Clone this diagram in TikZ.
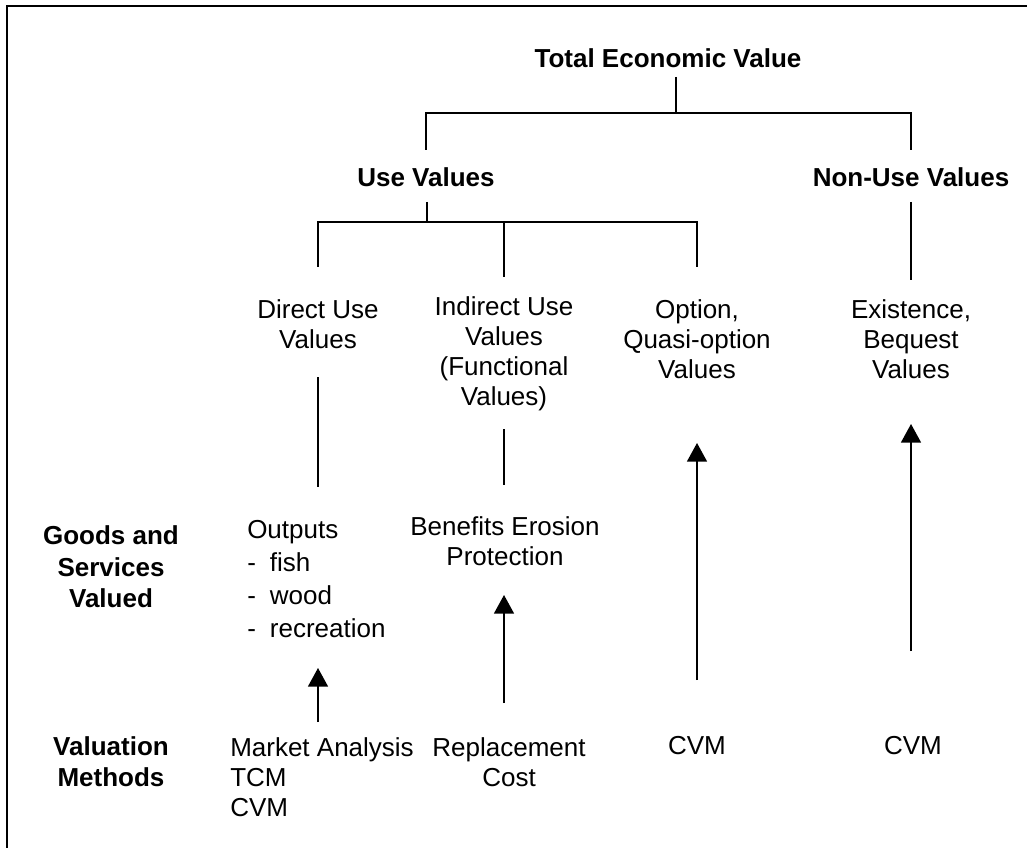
\documentclass[tikz,border=0pt]{standalone}
\usepackage{fontspec}
\setmainfont{Liberation Sans}
\usetikzlibrary{arrows.meta}
\begin{document}
\begin{tikzpicture}[x=0.75pt,y=-0.75pt,
  lbl/.style={inner sep=0pt,align=center,font=\fontsize{19.5}{22.5}\selectfont},
  blbl/.style={lbl,font=\fontsize{19.5}{23.5}\selectfont\bfseries},
  conn/.style={line width=1.2pt},
  arr/.style={line width=1.2pt,-{Triangle[width=15pt,length=14pt]}},
  frame/.style={line width=2pt}]
\useasboundingbox (0,0) rectangle (1027,848);
% frame (cropped box: top and left sides)
\draw[frame] (1027,6) -- (7,6) -- (7,848);
% nodes
\node[blbl] (tev) at (668,58) {Total Economic Value};
\node[blbl] (use) at (426,177) {Use Values};
\node[blbl] (nonuse) at (911,177) {Non-Use Values};
\node[lbl] (direct) at (318,324) {Direct Use\\Values};
\node[lbl] (indirect) at (504,354) {Indirect Use\\Values\\(Functional\\Values)};
\node[lbl] (option) at (697,339) {Option,\\Quasi-option\\Values};
\node[lbl] (exist) at (911,339) {Existence,\\Bequest\\Values};
\node[blbl] (goods) at (111,567) {Goods and\\Services\\Valued};
\node[lbl,align=left,anchor=west,font=\fontsize{19.5}{24.8}\selectfont] (outputs) at (247,579) {Outputs\\-\hspace{10.5pt}fish\\-\hspace{10.5pt}wood\\-\hspace{10.5pt}recreation};
\node[lbl] (benefits) at (505,541) {Benefits Erosion\\Protection};
\node[blbl] (valuation) at (111,762) {Valuation\\Methods};
\node[lbl,align=left,anchor=west] (market) at (230,777) {Market Analysis\\TCM\\CVM};
\node[lbl] (replace) at (509,762) {Replacement\\Cost};
\node[lbl] (cvmA) at (697,746) {CVM};
\node[lbl] (cvmB) at (913,746) {CVM};
% tree connectors
\coordinate (tevj) at (676,113);
\draw[conn] (676,77) -- (tevj);
\draw[conn] (use.center |- 0,150) -- (use.center |- tevj) -| (nonuse.center |- 0,150);
\coordinate (usej) at (427,222);
\draw[conn] (427,202) -- (usej);
\draw[conn] (direct.center |- 0,267) -- (direct.center |- usej) -| (option.center |- 0,267);
\draw[conn] (indirect.center |- usej) -- (indirect.center |- 0,277);
\draw[conn] (nonuse.center |- 0,202) -- (nonuse.center |- 0,280);
% lower connectors
\draw[conn] (direct.center |- 0,377) -- (direct.center |- 0,487);
\draw[conn] (indirect.center |- 0,429) -- (indirect.center |- 0,485);
% arrows from methods up
\draw[arr] (direct.center |- 0,722) -- (direct.center |- 0,668);
\draw[arr] (indirect.center |- 0,703) -- (indirect.center |- 0,595);
\draw[arr] (option.center |- 0,680) -- (option.center |- 0,443);
\draw[arr] (nonuse.center |- 0,651) -- (nonuse.center |- 0,424);
\end{tikzpicture}
\end{document}
